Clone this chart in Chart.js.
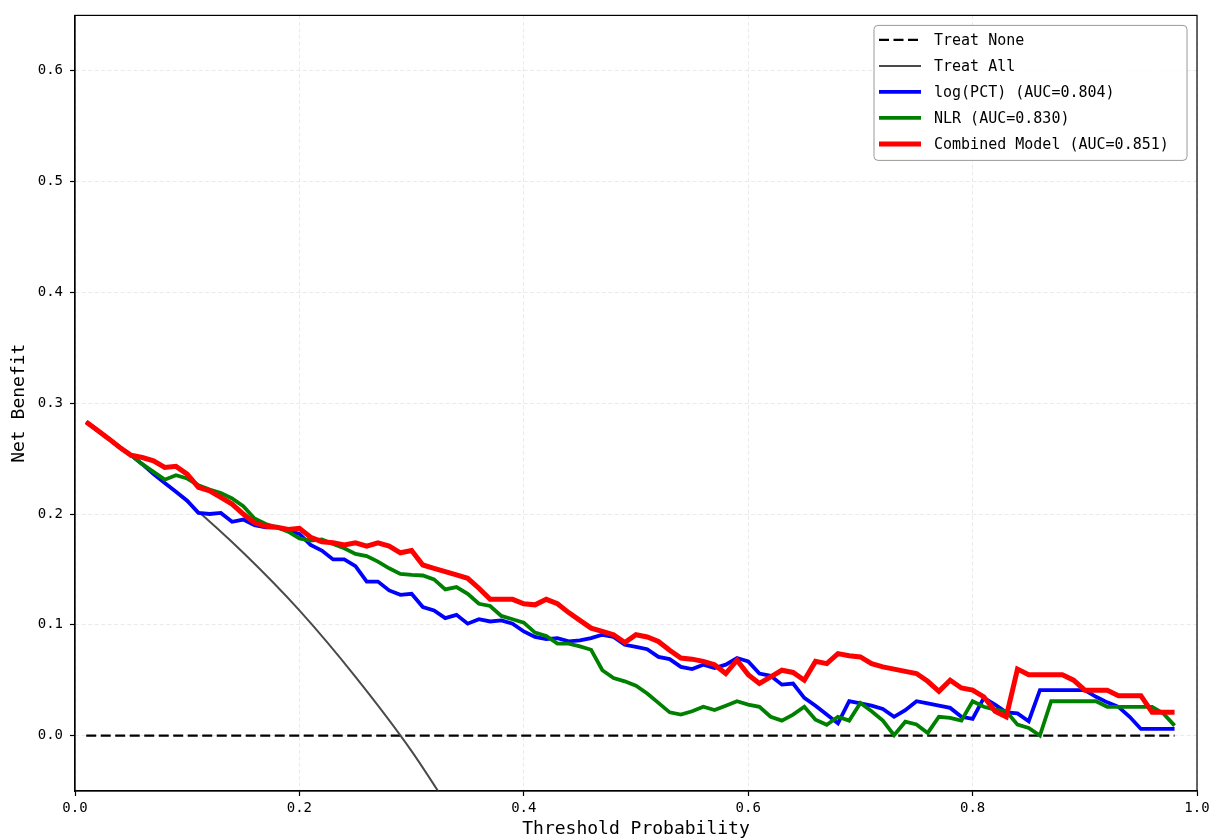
<!DOCTYPE html>
<html>
<head>
<meta charset="utf-8">
<title>Decision Curve Analysis</title>
<script src="https://cdn.jsdelivr.net/npm/chart.js@4.4.0/dist/chart.umd.min.js"></script>
<style>
  html, body { margin: 0; padding: 0; background: #fff; }
  #wrap { width: 1211px; height: 840px; }
</style>
</head>
<body>
<div id="wrap"><canvas id="dcaChart" width="1211" height="840"></canvas></div>
<script>
// threshold probabilities for the model curves
const thresholds = [
    0.01, 0.02, 0.03, 0.04, 0.05, 0.06, 0.07, 0.08, 0.09, 0.10,
    0.11, 0.12, 0.13, 0.14, 0.15, 0.16, 0.17, 0.18, 0.19, 0.20,
    0.21, 0.22, 0.23, 0.24, 0.25, 0.26, 0.27, 0.28, 0.29, 0.30,
    0.31, 0.32, 0.33, 0.34, 0.35, 0.36, 0.37, 0.38, 0.39, 0.40,
    0.41, 0.42, 0.43, 0.44, 0.45, 0.46, 0.47, 0.48, 0.49, 0.50,
    0.51, 0.52, 0.53, 0.54, 0.55, 0.56, 0.57, 0.58, 0.59, 0.60,
    0.61, 0.62, 0.63, 0.64, 0.65, 0.66, 0.67, 0.68, 0.69, 0.70,
    0.71, 0.72, 0.73, 0.74, 0.75, 0.76, 0.77, 0.78, 0.79, 0.80,
    0.81, 0.82, 0.83, 0.84, 0.85, 0.86, 0.87, 0.88, 0.89, 0.90,
    0.91, 0.92, 0.93, 0.94, 0.95, 0.96, 0.97, 0.98
];

const logPct = [
    0.283, 0.2755, 0.268, 0.260, 0.253, 0.245, 0.236, 0.228, 0.220, 0.212,
    0.201, 0.200, 0.201, 0.193, 0.195, 0.190, 0.188, 0.188, 0.185, 0.182,
    0.172, 0.167, 0.159, 0.159, 0.153, 0.139, 0.139, 0.131, 0.127, 0.128,
    0.116, 0.113, 0.106, 0.109, 0.101, 0.105, 0.103, 0.104, 0.101, 0.094,
    0.089, 0.087, 0.088, 0.085, 0.086, 0.088, 0.091, 0.089, 0.082, 0.080,
    0.078, 0.071, 0.069, 0.062, 0.060, 0.064, 0.061, 0.064, 0.070, 0.067,
    0.056, 0.054, 0.046, 0.047, 0.034, 0.027, 0.019, 0.011, 0.031, 0.029,
    0.027, 0.024, 0.017, 0.023, 0.031, 0.029, 0.027, 0.025, 0.017, 0.015,
    0.034, 0.028, 0.021, 0.020, 0.013, 0.041, 0.041, 0.041, 0.041, 0.041,
    0.035, 0.030, 0.026, 0.017, 0.006, 0.006, 0.006, 0.006
];

const nlr = [
    0.283, 0.2755, 0.268, 0.260, 0.253, 0.245, 0.238, 0.231, 0.235, 0.232,
    0.226, 0.222, 0.219, 0.214, 0.207, 0.196, 0.191, 0.188, 0.184, 0.178,
    0.176, 0.177, 0.173, 0.169, 0.164, 0.162, 0.157, 0.151, 0.146, 0.145,
    0.1445, 0.141, 0.132, 0.134, 0.128, 0.119, 0.117, 0.108, 0.105, 0.102,
    0.093, 0.090, 0.083, 0.083, 0.0805, 0.0775, 0.059, 0.052, 0.049, 0.045,
    0.038, 0.0295, 0.021, 0.019, 0.022, 0.026, 0.023, 0.027, 0.031, 0.028,
    0.026, 0.017, 0.0135, 0.019, 0.026, 0.0144, 0.0098, 0.017, 0.0135, 0.0294,
    0.022, 0.0135, 0.0003, 0.0125, 0.010, 0.0024, 0.017, 0.016, 0.0135, 0.031,
    0.026, 0.0235, 0.022, 0.0099, 0.0069, 0.000, 0.031, 0.031, 0.031, 0.031,
    0.031, 0.026, 0.026, 0.026, 0.026, 0.026, 0.020, 0.009
];

const combined = [
    0.283, 0.2755, 0.268, 0.260, 0.253, 0.251, 0.248, 0.242, 0.243, 0.236,
    0.224, 0.221, 0.215, 0.209, 0.200, 0.192, 0.189, 0.188, 0.186, 0.187,
    0.179, 0.175, 0.174, 0.172, 0.174, 0.171, 0.174, 0.171, 0.165, 0.167,
    0.154, 0.151, 0.148, 0.145, 0.142, 0.133, 0.123, 0.123, 0.123, 0.119,
    0.118, 0.123, 0.119, 0.111, 0.104, 0.097, 0.094, 0.091, 0.084, 0.091,
    0.089, 0.085, 0.077, 0.070, 0.069, 0.067, 0.064, 0.056, 0.068, 0.055,
    0.047, 0.053, 0.059, 0.057, 0.050, 0.067, 0.065, 0.074, 0.072, 0.071,
    0.065, 0.062, 0.060, 0.058, 0.056, 0.049, 0.040, 0.050, 0.043, 0.041,
    0.035, 0.022, 0.017, 0.060, 0.055, 0.055, 0.055, 0.055, 0.050, 0.041,
    0.041, 0.041, 0.036, 0.036, 0.036, 0.021, 0.021, 0.021
];

// reference strategies
const treatAllX = [0.01, 0.05, 0.10, 0.15, 0.20, 0.25, 0.30, 0.35];
const treatAll = [0.283, 0.253, 0.211, 0.165, 0.113, 0.053, -0.014, -0.092];
const treatNoneX = [0.01, 0.98];
const treatNone = [0, 0];

const xTicks = [0, 0.2, 0.4, 0.6, 0.8, 1.0];
const yTicks = [0, 0.1, 0.2, 0.3, 0.4, 0.5, 0.6];

const seriesLabels = ['Treat None', 'Treat All', 'log(PCT) (AUC=0.804)', 'NLR (AUC=0.830)', 'Combined Model (AUC=0.851)'];

function toPoints(xs, ys) {
    return xs.map((x, i) => ({ x: x, y: ys[i] }));
}

const monoFont = "'DejaVu Sans Mono', 'Liberation Mono', monospace";

// matplotlib-like frame (top and right spines)
const framePlugin = {
    id: 'frame',
    afterDraw(chart) {
        const { ctx, chartArea: a } = chart;
        ctx.save();
        ctx.strokeStyle = '#000';
        ctx.lineWidth = 1.2;
        ctx.strokeRect(a.left, a.top, a.right - a.left, a.bottom - a.top);
        ctx.restore();
    }
};

// legend drawn inside the axes, upper right
const innerLegend = {
    id: 'innerLegend',
    afterDraw(chart) {
        const { ctx, chartArea: a } = chart;
        const w = 313, h = 135;
        const x = a.right - 10 - w, y = a.top + 10;
        ctx.save();
        ctx.beginPath();
        ctx.roundRect(x, y, w, h, 4);
        ctx.fillStyle = 'rgba(255,255,255,0.85)';
        ctx.fill();
        ctx.lineWidth = 1;
        ctx.strokeStyle = '#9a9a9a';
        ctx.stroke();
        ctx.font = '15px ' + monoFont;
        ctx.textBaseline = 'middle';
        chart.data.datasets.forEach((ds, i) => {
            const cy = y + 14.5 + i * 26;
            ctx.beginPath();
            ctx.setLineDash(ds.borderDash || []);
            ctx.lineWidth = ds.borderWidth;
            ctx.strokeStyle = ds.borderColor;
            ctx.moveTo(x + 5, cy);
            ctx.lineTo(x + 47, cy);
            ctx.stroke();
            ctx.setLineDash([]);
            ctx.fillStyle = '#000';
            ctx.fillText(ds.label, x + 60, cy + 1);
        });
        ctx.restore();
    }
};

const ctx = document.getElementById('dcaChart').getContext('2d');

new Chart(ctx, {
    type: 'line',
    data: {
        datasets: [
            {
                label: seriesLabels[0],
                data: toPoints(treatNoneX, treatNone),
                borderColor: '#000000',
                borderWidth: 2.2,
                borderDash: [10, 4.5],
                order: 4
            },
            {
                label: seriesLabels[1],
                data: toPoints(treatAllX, treatAll),
                borderColor: '#4a4a4a',
                borderWidth: 2,
                cubicInterpolationMode: 'monotone',
                order: 3
            },
            {
                label: seriesLabels[2],
                data: toPoints(thresholds, logPct),
                borderColor: '#0000ff',
                borderWidth: 3.8,
                order: 2
            },
            {
                label: seriesLabels[3],
                data: toPoints(thresholds, nlr),
                borderColor: '#008000',
                borderWidth: 3.8,
                order: 1
            },
            {
                label: seriesLabels[4],
                data: toPoints(thresholds, combined),
                borderColor: '#ff0000',
                borderWidth: 5,
                order: 0
            }
        ]
    },
    options: {
        responsive: false,
        animation: false,
        devicePixelRatio: 1,
        layout: { padding: { top: 15, right: 14, left: 0, bottom: 0 } },
        elements: {
            point: { radius: 0, hoverRadius: 0 },
            line: { tension: 0, fill: false, borderCapStyle: 'butt', borderJoinStyle: 'miter' }
        },
        plugins: {
            legend: { display: false },
            tooltip: { enabled: false },
            title: { display: false }
        },
        scales: {
            x: {
                type: 'linear',
                min: 0,
                max: 1,
                afterBuildTicks: (scale) => { scale.ticks = xTicks.map(v => ({ value: v })); },
                afterFit: (scale) => {
                    scale.height = 49;
                    scale.paddingRight = 0;
                    scale.paddingLeft = 0;
                },
                ticks: {
                    color: '#000',
                    font: { family: monoFont, size: 14 },
                    padding: 4,
                    maxRotation: 0,
                    callback: (v) => Number(v).toFixed(1)
                },
                grid: {
                    color: '#e4e4e4',
                    lineWidth: 0.8,
                    tickColor: '#000',
                    tickLength: 5,
                    tickWidth: 1.2,
                    tickBorderDash: []
                },
                border: { display: true, color: '#000', width: 1.2, dash: [4, 2.5] },
                title: {
                    display: true,
                    text: 'Threshold Probability',
                    color: '#000',
                    font: { family: monoFont, size: 18 },
                    padding: { top: 0, bottom: 0 }
                }
            },
            y: {
                type: 'linear',
                min: -0.05,
                max: 0.65,
                afterBuildTicks: (scale) => { scale.ticks = yTicks.map(v => ({ value: v })); },
                afterFit: (scale) => { scale.width = 75; },
                ticks: {
                    color: '#000',
                    font: { family: monoFont, size: 14 },
                    padding: 7,
                    callback: (v) => Number(v).toFixed(1)
                },
                grid: {
                    color: '#e4e4e4',
                    lineWidth: 0.8,
                    tickColor: '#000',
                    tickLength: 5,
                    tickWidth: 1.2,
                    tickBorderDash: []
                },
                border: { display: true, color: '#000', width: 1.2, dash: [4, 2.5] },
                title: {
                    display: true,
                    text: 'Net Benefit',
                    color: '#000',
                    font: { family: monoFont, size: 18 },
                    padding: { top: 9, bottom: 0 }
                }
            }
        }
    },
    plugins: [framePlugin, innerLegend]
});
</script>
</body>
</html>
